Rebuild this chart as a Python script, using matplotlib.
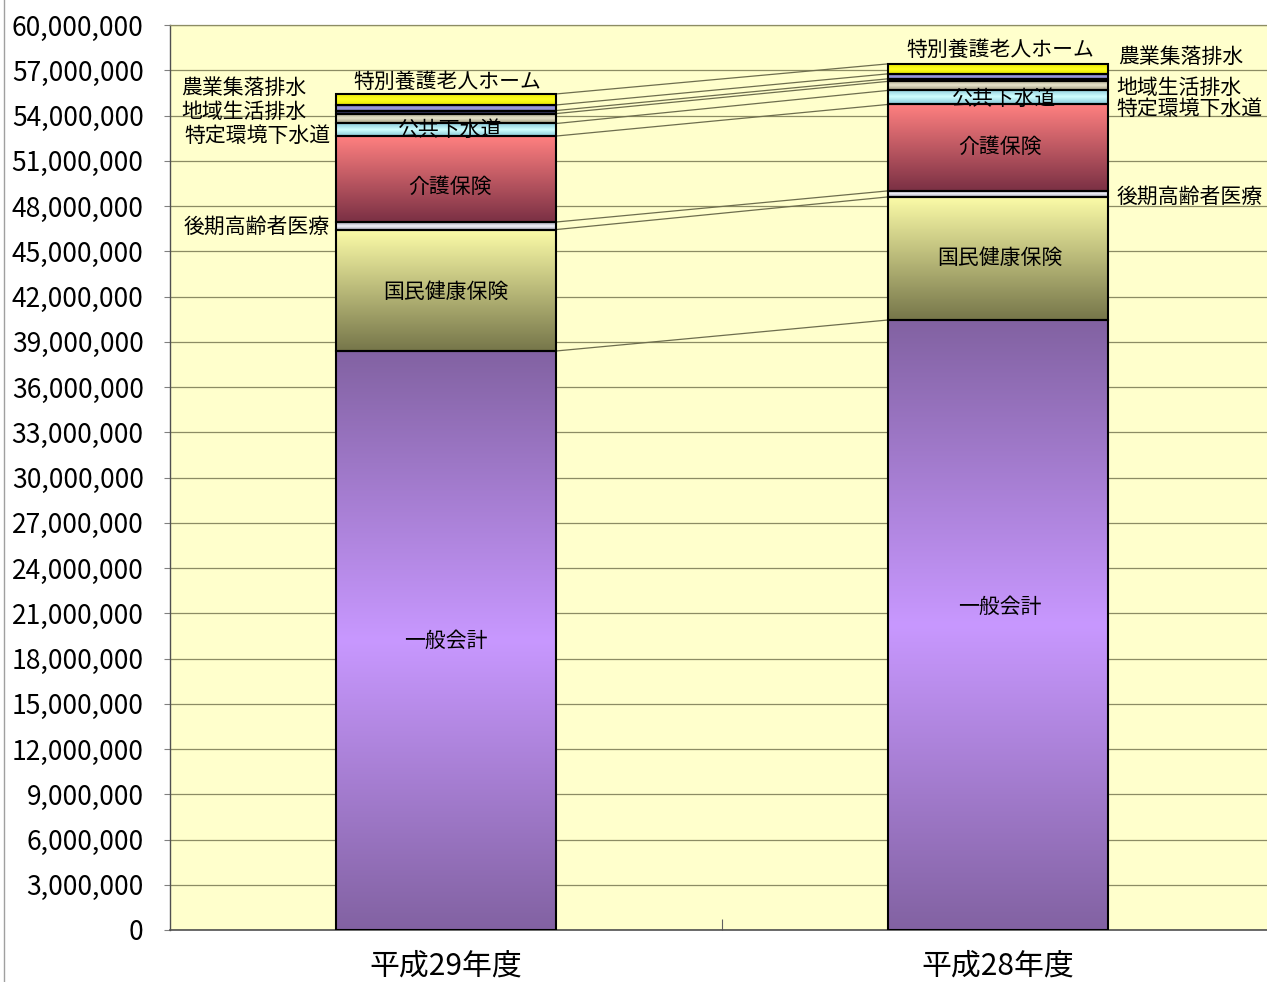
import numpy as np
import matplotlib
matplotlib.use('Agg')
import matplotlib.pyplot as plt
from matplotlib.colors import LinearSegmentedColormap
from matplotlib.lines import Line2D

plt.rcParams['font.family'] = ['Noto Sans CJK JP', 'DejaVu Sans']

# ---------------- data ----------------
categories = ['平成29年度', '平成28年度']
series_names = ['一般会計', '国民健康保険', '後期高齢者医療', '介護保険', '公共下水道',
                '特定環境下水道', '地域生活排水', '農業集落排水', '特別養護老人ホーム']
values_h29 = [38_390_000, 8_050_000, 500_000, 5_700_000, 830_000,
              660_000, 200_000, 370_000, 730_000]
values_h28 = [40_440_000, 8_160_000, 400_000, 5_730_000, 930_000,
              600_000, 170_000, 330_000, 660_000]
yticks = list(range(0, 60_000_001, 3_000_000))

# label layout: (text, x position, y value, ha)
labels_h29 = [
    ('一般会計', 0.0, 19_160_000, 'center'),
    ('国民健康保険', 0.0, 42_300_000, 'center'),
    ('介護保険', 0.008, 49_260_000, 'center'),
    ('公共下水道', 0.008, 53_040_000, 'center'),
    ('特別養護老人ホーム', 0.002, 56_220_000, 'center'),
    ('農業集落排水', -0.48, 55_820_000, 'left'),
    ('地域生活排水', -0.48, 54_230_000, 'left'),
    ('特定環境下水道', -0.21, 52_640_000, 'right'),
    ('後期高齢者医療', -0.21, 46_610_000, 'right'),
]
labels_h28 = [
    ('一般会計', 1.0036, 21_410_000, 'center'),
    ('国民健康保険', 1.0036, 44_550_000, 'center'),
    ('介護保険', 1.0036, 51_910_000, 'center'),
    ('公共下水道', 1.011, 55_100_000, 'center'),
    ('特別養護老人ホーム', 1.0036, 58_340_000, 'center'),
    ('農業集落排水', 1.217, 57_900_000, 'left'),
    ('地域生活排水', 1.214, 55_820_000, 'left'),
    ('特定環境下水道', 1.214, 54_430_000, 'left'),
    ('後期高齢者医療', 1.215, 48_600_000, 'left'),
]

# gradient styles: (kind, edge/bottom colour, centre/top colour)
styles = [
    ('sym', '#8262A2', '#C898FF'),
    ('lin', '#76764A', '#FCFCA8'),
    ('sym', '#9C9CAC', '#F2F2FA'),
    ('lin', '#7A3044', '#FF8080'),
    ('sym', '#88C8D8', '#D0FFFF'),
    ('sym', '#A09C80', '#E8E4CC'),
    ('sym', '#202040', '#404068'),
    ('sym', '#6A6AAA', '#A0A0E0'),
    ('sym', '#E8E800', '#FFFF20'),
]

W, H = 1267, 982
fig = plt.figure(figsize=(W / 100, H / 100), dpi=100)
fig.patch.set_facecolor('white')
ax_left, ax_right = 170, 1274
ax_top, ax_bot = 25, 930
ax = fig.add_axes([ax_left / W, (H - ax_bot) / H, (ax_right - ax_left) / W, (ax_bot - ax_top) / H])
ax.set_facecolor('#FFFFCC')

x = np.arange(len(categories))
width = 0.4
data = np.array([values_h29, values_h28], dtype=float)  # (cat, series)
bottoms = np.zeros(len(categories))

grad_n = 256
t = np.linspace(0, 1, grad_n)
for si, name in enumerate(series_names):
    kind, c_edge, c_mid = styles[si]
    bars = ax.bar(x, data[:, si], width, bottom=bottoms, facecolor='none',
                  edgecolor='black', linewidth=1.5, zorder=4)
    if kind == 'sym':
        g = 1 - np.abs(2 * t - 1)
    else:
        g = t
    cmap = LinearSegmentedColormap.from_list(f'c{si}', [c_edge, c_mid])
    for p in bars.patches:
        x0, y0 = p.get_x(), p.get_y()
        im = ax.imshow(g.reshape(-1, 1), extent=[x0, x0 + p.get_width(), y0, y0 + p.get_height()],
                       origin='lower', aspect='auto', cmap=cmap, vmin=0, vmax=1, zorder=3,
                       interpolation='bilinear')
        im.set_clip_path(p)
    bottoms = bottoms + data[:, si]

# series lines between the bars
cum = np.cumsum(data, axis=1)
for si in range(len(series_names)):
    ax.plot([x[0] + width / 2, x[1] - width / 2], [cum[0, si], cum[1, si]],
            color='#6E6E4E', lw=0.9, zorder=2)

ax.set_xlim(-0.5, 1.5)
ax.set_ylim(0, 60_000_000)
ax.set_yticks(yticks)
ax.set_yticklabels([f'{v:,}' for v in yticks], fontsize=19)
ax.yaxis.grid(True, color='#8C8C64', lw=0.9, zorder=1)
ax.set_axisbelow(True)
ax.tick_params(axis='y', length=4, width=0.8, color='#808080', pad=15)
ax.set_xticks(x)
ax.set_xticklabels(categories, fontsize=21.5)
ax.tick_params(axis='x', length=0, pad=15)
ax.set_xticks([0.5], minor=True)
ax.tick_params(axis='x', which='minor', direction='in', length=8, width=0.8, color='#606060')

for s in ['top', 'right']:
    ax.spines[s].set_color('#8C8C64')
    ax.spines[s].set_linewidth(0.9)
ax.spines['left'].set_color('#505050')
ax.spines['left'].set_linewidth(1.0)
ax.spines['bottom'].set_color('#505050')
ax.spines['bottom'].set_linewidth(1.2)

for txt, lx, ly, ha in labels_h29 + labels_h28:
    ax.text(lx, ly, txt, ha=ha, va='center', fontsize=15, color='black', zorder=6)

# outer chart border line on the left
fig.add_artist(Line2D([4 / W, 4 / W], [0, 1], transform=fig.transFigure, color='#A0A0A0', lw=1.0))

fig.savefig('out.png', dpi=100, facecolor=fig.get_facecolor())
